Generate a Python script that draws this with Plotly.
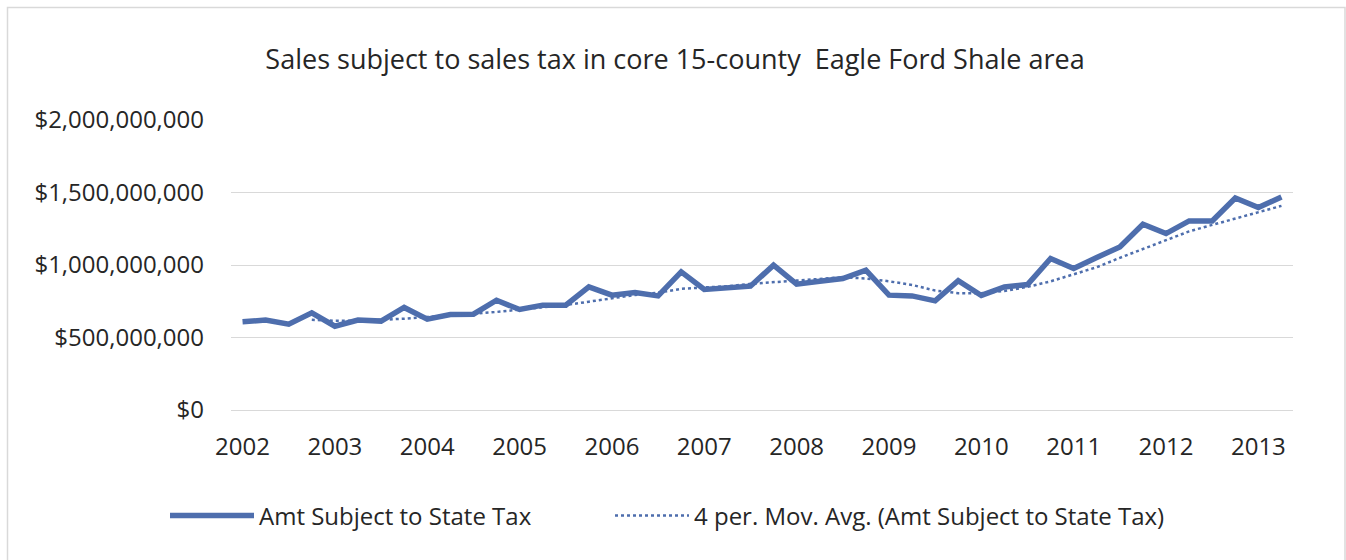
import plotly.graph_objects as go
import pandas as pd

# Quarterly sales subject to state sales tax, 2002 Q1 - 2013 Q2 (dollars)
years = list(range(2002, 2014))
quarters = [f"{y} Q{q}" for y in years for q in range(1, 5)][:46]
amt_millions = [
    608, 620, 592, 670, 578, 620, 613, 707, 627, 659, 661, 757, 693, 723, 723, 849,
    792, 810, 787, 953, 831, 842, 854, 999, 868, 888, 907, 964, 792, 787, 753, 892,
    790, 849, 865, 1045, 976, 1052, 1125, 1281, 1217, 1304, 1304, 1462, 1396, 1469,
]
amt = [v * 1_000_000 for v in amt_millions]
y_ticks = [0, 500_000_000, 1_000_000_000, 1_500_000_000, 2_000_000_000]
x_ticks = [f"{y} Q1" for y in years]
x_ticktext = [str(y) for y in years]

# Four-period trailing moving average
mov_avg = pd.Series(amt).rolling(4).mean().tolist()

BLUE = "#4E6EAD"
TEXT = "#262626"
FONT = "Open Sans"

fig = go.Figure()
fig.add_trace(go.Scatter(
    x=quarters, y=amt, mode="lines", name="Amt Subject to State Tax",
    line=dict(color=BLUE, width=5.5), legend="legend",
))
fig.add_trace(go.Scatter(
    x=quarters, y=mov_avg, mode="lines",
    name="4 per. Mov. Avg. (Amt Subject to State Tax)",
    line=dict(color=BLUE, width=2.5, dash="dot"), legend="legend2",
))

W, H = 1346, 560
L, R, T, B = 231, 53, 120, 150
pw, ph = W - L - R, H - T - B

def px_x(v):
    return (v - L) / pw

def px_y(v):
    return (H - B - v) / ph

legend_common = dict(
    orientation="h", xanchor="left", y=px_y(516), yanchor="middle",
    font=dict(size=24, color=TEXT), bgcolor="rgba(0,0,0,0)",
)

fig.update_layout(
    width=W, height=H,
    margin=dict(l=L, r=R, t=T, b=B),
    paper_bgcolor="white", plot_bgcolor="white",
    font=dict(family=FONT, color=TEXT, size=24),
    title=dict(
        text="Sales subject to sales tax in core 15-county  Eagle Ford Shale area",
        x=675 / W, xref="container", xanchor="center",
        y=1 - 60 / H, yref="container", yanchor="middle",
        font=dict(size=27, color=TEXT),
    ),
    showlegend=True,
    legend=dict(x=px_x(165), itemwidth=84, **legend_common),
    legend2=dict(x=px_x(610), itemwidth=74, **legend_common),
    shapes=[dict(
        type="rect", xref="paper", yref="paper",
        x0=px_x(7.5), x1=px_x(1345), y0=px_y(562), y1=px_y(7.5),
        line=dict(color="#D9D9D9", width=1.5), fillcolor="rgba(0,0,0,0)", layer="below",
    )],
)

fig.update_xaxes(
    type="category", categoryorder="array", categoryarray=quarters,
    range=[-0.5, len(quarters) - 0.5],
    tickmode="array", tickvals=x_ticks, ticktext=x_ticktext,
    showgrid=False, showline=False, zeroline=False, ticks="",
    ticklabelstandoff=20, tickfont=dict(size=24, color=TEXT),
)
fig.update_yaxes(
    range=[0, 2_000_000_000], tickvals=y_ticks,
    tickformat="$,.0f",
    showgrid=True, gridcolor="#D9D9D9", gridwidth=1,
    zeroline=True, zerolinecolor="#D9D9D9", zerolinewidth=1,
    showline=False, ticks="", ticklabelstandoff=26,
    tickfont=dict(size=24, color=TEXT),
)

fig.write_html("out.html")
